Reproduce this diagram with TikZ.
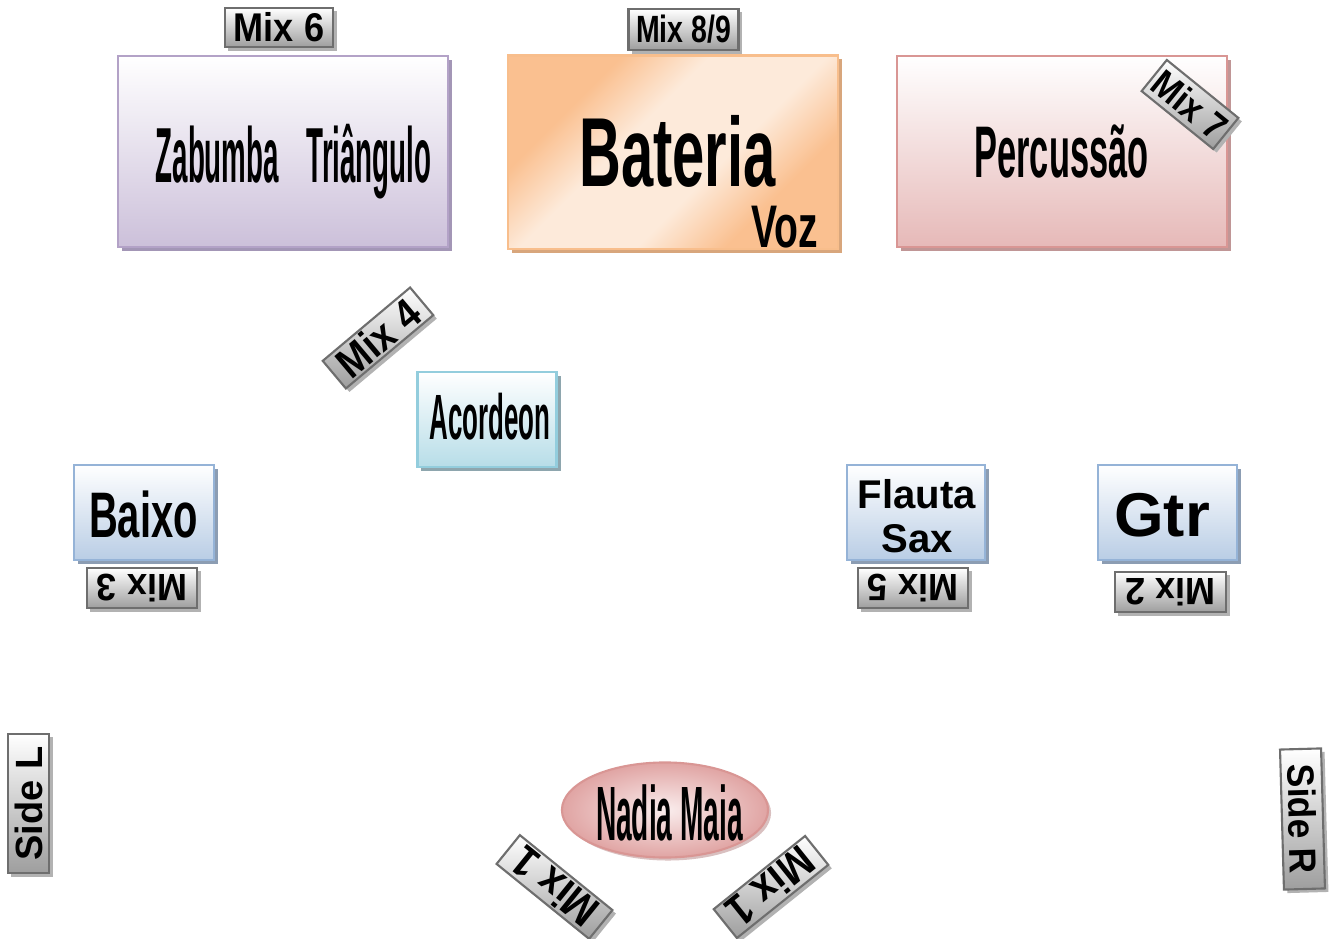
\documentclass[tikz,border=0pt]{standalone}
\usepackage{fontspec}
\setmainfont{Liberation Sans}
\usetikzlibrary{shadows,shapes.geometric}
\newcommand\hsq[2]{\scalebox{#1}[1]{#2}}
\definecolor{mixgray}{HTML}{9E9E9E}
\definecolor{mixborder}{HTML}{6E6E6E}
\definecolor{mixshadow}{HTML}{B2B2B2}
\definecolor{zabF}{HTML}{CCC0DA}
\definecolor{zabB}{HTML}{B3A2C7}
\definecolor{zabS}{HTML}{A396B6}
\definecolor{batO}{HTML}{FAC090}
\definecolor{batL}{HTML}{FDEADA}
\definecolor{batB}{HTML}{F8BE8C}
\definecolor{batS}{HTML}{D8A67C}
\definecolor{perF}{HTML}{E6B9B8}
\definecolor{perB}{HTML}{D99694}
\definecolor{perS}{HTML}{C09696}
\definecolor{acoF}{HTML}{B7DDE8}
\definecolor{acoB}{HTML}{93CDDD}
\definecolor{acoS}{HTML}{8EA6AE}
\definecolor{bluF}{HTML}{B9CDE5}
\definecolor{bluB}{HTML}{95B3D7}
\definecolor{bluS}{HTML}{8C9DB3}
\definecolor{pinkL}{HTML}{FAEDED}
\definecolor{pinkD}{HTML}{E0A4A3}
\pgfdeclarehorizontalshading{batshade}{100bp}{color(0bp)=(batO); color(30bp)=(batO); color(42bp)=(batL); color(58bp)=(batL); color(70bp)=(batO); color(100bp)=(batO)}
\begin{document}
\begin{tikzpicture}[x=0.01cm,y=-0.01cm,
  mixbase/.style={draw=mixborder, line width=0.6pt, inner sep=0pt,
    font=\bfseries\fontsize{10.8}{12}\selectfont},
  mixv/.style={mixbase, top color=white, bottom color=mixgray},
  mixsh/.style={drop shadow={shadow xshift=0.35mm, shadow yshift=-0.35mm, fill=mixshadow, opacity=1}},
  bigbox/.style n args={3}{draw=#1, line width=0.6pt, top color=white, bottom color=#2,
    inner sep=0pt, drop shadow={shadow xshift=0.4mm, shadow yshift=-0.4mm, fill=#3, opacity=1}},
  txt/.style={inner sep=0pt, anchor=base}
]
\fill[white] (0,0) rectangle (1338,939);
\useasboundingbox (0,0) rectangle (1338,939);

% top boxes
\node[bigbox={zabB}{zabF}{zabS}, minimum width=33mm, minimum height=19.1mm] (zab) at (283,151.5) {};
\node[draw=batB, line width=0.6pt, shading=batshade, shading angle=-45,
  inner sep=0pt, minimum width=33mm, minimum height=19.3mm,
  drop shadow={shadow xshift=0.4mm, shadow yshift=-0.4mm, fill=batS, opacity=1}] (bat) at (673,152) {};
\node[bigbox={perB}{perF}{perS}, minimum width=33mm, minimum height=19.1mm] (per) at (1062,151.5) {};

\node[txt, font=\bfseries\fontsize{22.2}{24}\selectfont] (zabt) at (293.5,182) {\hsq{0.355}{Zabumba\quad Triângulo}};
\node[txt, font=\bfseries\fontsize{27.9}{30}\selectfont] (batt) at (677.5,186) {\hsq{0.59}{Bateria}};
\node[txt, font=\bfseries\fontsize{17.1}{19}\selectfont] (voz) at (785,247) {\hsq{0.65}{Voz}};
\node[txt, font=\bfseries\fontsize{20.8}{23}\selectfont] (pert) at (1061.5,177) {\hsq{0.47}{Percussão}};

% top mix labels
\node[mixv, mixsh, minimum width=10.8mm, minimum height=3.9mm, font=\bfseries\fontsize{11.4}{13}\selectfont] (mix6) at (279,27.5) {\hsq{0.9}{Mix 6}};
\node[mixv, mixsh, minimum width=11mm, minimum height=4.1mm] (mix89) at (683.5,29.5) {\hsq{0.75}{Mix 8/9}};
\node[mixv, mixsh, rotate=-39, minimum width=9.2mm, minimum height=4mm] (mix7) at (1190,104.5) {\hsq{0.9}{Mix 7}};
\node[mixv, mixsh, rotate=40, minimum width=11.4mm, minimum height=3.6mm, font=\bfseries\fontsize{12}{13}\selectfont] (mix4) at (378,338) {\hsq{0.9}{Mix 4}};

% middle boxes
\node[bigbox={acoB}{acoF}{acoS}, minimum width=13.9mm, minimum height=9.5mm] (aco) at (487,419.5) {};
\node[txt, font=\bfseries\fontsize{18.2}{20}\selectfont] (acot) at (490,439) {\hsq{0.405}{Acordeon}};

\node[bigbox={bluB}{bluF}{bluS}, minimum width=14mm, minimum height=9.5mm] (bai) at (144,512.5) {};
\node[txt, font=\bfseries\fontsize{18.3}{20}\selectfont] (bait) at (143.5,537) {\hsq{0.62}{Baixo}};

\node[bigbox={bluB}{bluF}{bluS}, minimum width=13.8mm, minimum height=9.5mm] (fla) at (916,512.5) {};
\node[txt, font=\bfseries\fontsize{11.4}{13}\selectfont] (flat) at (917,508) {Flauta};
\node[txt, font=\bfseries\fontsize{11.4}{13}\selectfont] (saxt) at (917,552) {Sax};

\node[bigbox={bluB}{bluF}{bluS}, minimum width=13.9mm, minimum height=9.5mm] (gtr) at (1167.5,512.5) {};
\node[txt, font=\bfseries\fontsize{17.6}{19}\selectfont] (gtrt) at (1162,536) {\hsq{1.03}{Gtr}};

\node[mixv, mixsh, minimum width=11mm, minimum height=4mm] (mix3) at (142,588) {\rotatebox{180}{\hsq{0.95}{Mix 3}}};
\node[mixv, mixsh, minimum width=11mm, minimum height=4mm] (mix5) at (913,588) {\rotatebox{180}{\hsq{0.95}{Mix 5}}};
\node[mixv, mixsh, minimum width=11.1mm, minimum height=4mm] (mix2) at (1170.5,592) {\rotatebox{180}{\hsq{0.95}{Mix 2}}};

% sides
\node[mixv, mixsh, minimum width=4.1mm, minimum height=13.9mm] (sideL) at (28.5,803.5) {\rotatebox{90}{Side L}};
\node[mixv, mixsh, rotate=-88.4, minimum width=14mm, minimum height=4.1mm] (sideR) at (1302.5,819) {\hsq{0.93}{Side R}};

% singer
\node[ellipse, draw=perB, line width=0.6pt, inner color=pinkL, outer color=pinkD, inner sep=0pt,
  minimum width=20.6mm, minimum height=9.5mm,
  drop shadow={shadow xshift=0.3mm, shadow yshift=-0.3mm, fill=perS, opacity=0.6}] (nad) at (665,810) {};
\node[txt, font=\bfseries\fontsize{21.9}{24}\selectfont] (nadt) at (669.5,840) {\hsq{0.365}{Nadia Maia}};

\node[mixv, mixsh, rotate=141, minimum width=11.9mm, minimum height=3.7mm, font=\bfseries\fontsize{12.5}{14}\selectfont] (mix1l) at (554.5,887) {\hsq{0.9}{Mix 1}};
\node[mixv, mixsh, rotate=-141.3, minimum width=11.7mm, minimum height=3.7mm, font=\bfseries\fontsize{12.5}{14}\selectfont] (mix1r) at (771,887) {\hsq{0.9}{Mix 1}};
\end{tikzpicture}
\end{document}
